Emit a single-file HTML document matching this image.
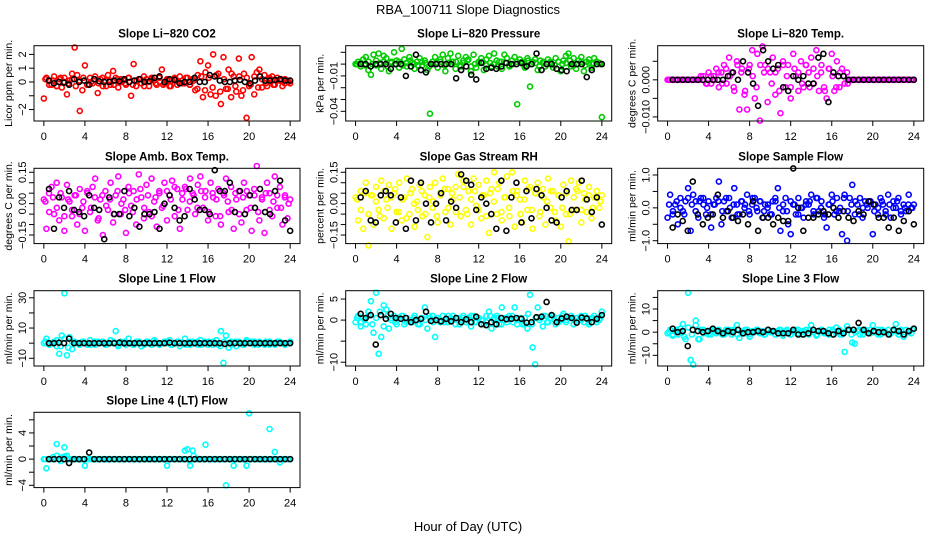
<!DOCTYPE html>
<html><head><meta charset="utf-8"><style>
body{margin:0;background:#fff}
svg{display:block;font-family:"Liberation Sans",Arial,sans-serif}
</style></head><body>
<svg id="chart" width="936" height="540" viewBox="0 0 936 540">
<rect width="936" height="540" fill="#fff"/>
<text x="468" y="14" text-anchor="middle" font-size="13">RBA_100711  Slope Diagnostics</text>
<text x="468" y="531" text-anchor="middle" font-size="13">Hour of Day (UTC)</text>
</svg>
<script>
const co2Color=[-1.2,0.3,0.1,-0.2,0.4,-0.3,0.2,-0.4,0.3,-0.9,0.1,0.6,2.5,0.5,-2.1,-0.6,1.2,-0.2,0.3,-0.1,0.4,-0.8,0.2,-0.3,0.1,0.5,-0.2,0.8,0.3,-0.4,0.2,0.1,-0.2,0.3,-1.0,1.3,-0.3,0.2,-0.1,0.4,0.2,-0.3,0.3,0.1,-0.2,0.4,0.9,-0.1,0.2,-0.3,0.1,0.3,-0.2,0.4,0.1,-0.1,0.3,-0.2,0.2,-0.6,0.5,1.5,-1.1,0.7,1.2,-0.9,2.0,-1.0,0.6,-1.6,1.8,-0.5,0.9,-1.1,0.4,-0.7,1.7,-1.0,0.6,-2.6,-0.3,1.8,-0.9,0.7,0.9,-0.4,0.5,-0.3,0.2,0.4,-0.2,0.3,0.1,-0.3,0.2,0.1,-0.1];
const co2Core=[0.2,-0.2,0.1,-0.3,0.3,0,-0.1,0.2,-0.3,0.1,0.3,-0.2,0,0.2,-0.1,0.3,-0.3,0.1,-0.2,0.2,0,-0.1,0.3,-0.2,0.1,0.2,-0.3,0,0.2,-0.1,0.3,-0.2,0.1,-0.3,0.2,0,-0.1,0.3,-0.2,0.1,-0.5,0.4,-0.6,0.3,-0.4,0.5,-0.7,0.2,-0.5,0.6,-0.3,0.4,-0.6,0.3,-0.2,0.4,-0.4,0.2,-0.1,0.3,-0.2,0.1,0.2,-0.1,0];
const co2Black=[0.1,-0.1,0,-0.05,-0.2,0.2,0,0.1,-0.2,0.2,0.05,0,0,0.1,0.05,0.2,0,0.1,0.2,0,0.05,0.3,0.4,0,0.2,0.15,-0.1,0,0,0.3,0,0,0.5,0.4,0.1,0,0,0.1,0.15,0,-0.1,0.1,0.4,0.1,0.1,0.15,0.2,0.1,0.1];
const presColor=[0.000,0.002,-0.002,0.004,0.006,-0.005,-0.009,0.008,0.003,0.009,-0.004,0.007,0.005,-0.006,0.002,0.010,0.003,-0.003,0.013,0.004,-0.002,0.006,0.001,-0.004,0.002,0.005,-0.001,0.003,-0.005,-0.042,0.002,0.006,-0.003,0.004,0.008,-0.006,0.005,0.009,0.002,-0.004,0.007,-0.002,0.003,0.006,0.004,-0.006,0.008,-0.003,0.002,0.005,-0.005,0.004,0.007,-0.002,0.009,0.003,0.002,-0.004,0.008,0.005,-0.002,0.003,0.006,-0.034,0.004,0.002,-0.003,0.005,-0.019,0.002,0.004,-0.005,0.003,0.001,-0.002,0.004,0.002,-0.003,0.005,0.002,-0.006,0.003,0.007,0.009,-0.002,0.005,-0.004,0.003,0.006,-0.006,0.002,0.004,-0.003,0.005,0.002,0.001,-0.045];
const presCore=[0,0.001,-0.001,0.002,0,-0.001,0.001,0.002,-0.002,0.001,0,0.002,-0.001,0.001,0.003,0,-0.001,0.002,0.001,-0.002,0,0.001,0.002,-0.001,0.001,0,0.002,-0.001,0.001,0.003,-0.002,0,0.001,0.002,-0.001,0.001,0,-0.002,0.002,0.001,-0.001,0,0.002,0.001,-0.001,0.003,0,0.001,-0.002,0.002,0,0.001,-0.001,0.002,0,0.001,0.003,-0.001,0,0.002,-0.001,0.001,0,0.002,0];
const presBlack=[0,0,-0.002,0,0,0,-0.004,0,0,-0.01,-0.002,0.008,-0.005,-0.007,0,0,0,0,0,-0.012,-0.005,-0.002,-0.009,-0.013,0.001,-0.004,-0.003,-0.004,-0.002,0.001,0,0,0.001,-0.002,0,0.009,-0.005,0,0,-0.004,-0.005,-0.006,0,0,0,-0.011,-0.005,0,0];
const tempColor=[0,0,0,0,0,0,0,0,0,0,0,0,0,0.001,0,-0.001,0.002,-0.001,0.001,0.003,-0.002,0.002,0.004,-0.001,0.006,0.002,-0.003,0.005,-0.008,0.003,-0.004,-0.008,0.004,0.008,-0.005,0.007,-0.011,0.009,0.004,-0.006,0.002,0.006,-0.004,0.003,-0.009,0.005,-0.002,0.004,-0.005,0.007,0.001,-0.003,0.005,-0.002,0.004,0.002,0.006,-0.001,0.008,-0.003,0.004,-0.002,-0.005,0.003,0.007,-0.003,0.005,-0.002,0.003,-0.001,0.002,0,0,0,0,0,0,0,0,0,0,0,0,0,0,0,0,0,0,0,0,0,0,0,0,0,0];
const tempCore=[0,0,0,0,0,0,0,0,0,0.001,-0.001,0.001,0,0.002,-0.001,0.003,0.001,-0.002,0.004,0.002,-0.003,0.003,0.001,-0.002,0.004,0.002,0.003,-0.001,0.002,-0.003,0.004,0.001,-0.002,0.003,0.002,-0.001,0.004,-0.002,0.003,0.001,0.002,-0.003,0.003,0.001,-0.002,0.002,0.001,-0.001,0,0,0,0,0,0,0,0,0,0,0,0,0,0,0,0,0];
const tempBlack=[0,0,0,0,0,0,0,0,0,0,0,0.001,0.002,0,0.005,0.002,-0.001,-0.007,0.008,0.005,0.003,0.004,-0.002,-0.003,0.001,0,0.001,-0.001,-0.001,0.006,0.007,-0.006,0.002,0.001,0.001,0,0,0,0,0,0,0,0,0,0,0,0,0,0];
const ambColor=[0.02,-0.12,0.05,0.08,-0.05,0.1,-0.08,0.03,-0.13,0.09,0.01,-0.06,0.04,-0.1,0.07,-0.02,-0.13,0.05,-0.04,0.08,0.12,-0.08,0.02,-0.15,0.06,-0.03,0.1,-0.09,0.04,0.13,-0.05,0.02,-0.14,0.08,-0.01,0.06,-0.1,0.14,0.03,-0.07,0.09,-0.04,0.12,0.01,-0.11,0.06,-0.02,0.1,-0.08,0.04,0.11,-0.06,0.07,-0.12,0.02,0.08,-0.03,0.12,0.05,-0.05,0.09,0.13,-0.02,0.06,-0.08,0.1,0.03,-0.06,0.07,-0.1,0.05,0.12,-0.04,0.08,-0.12,0.02,0.06,-0.09,0.1,-0.03,0.04,-0.13,0.07,0.18,-0.08,0.03,-0.14,0.1,0.05,-0.06,0.13,-0.02,0.08,-0.1,0.04,-0.07,0.02];
const ambCore=[0.01,-0.04,0.03,-0.02,0.05,-0.06,0.02,-0.03,0.04,-0.05,0.01,0.06,-0.02,0.03,-0.07,0.04,-0.01,0.02,-0.05,0.06,0,-0.03,0.05,-0.04,0.02,0.07,-0.02,0.04,-0.06,0.03,0.05,-0.01,0.06,0.02,0.08,-0.03,0.05,0.07,0.01,0.04,-0.02,0.06,0.03,-0.04,0.05,0.02,-0.06,0.04,0.01,-0.03,0.05,-0.05,0.03,0.06,-0.02,0.04,-0.04,0.02,0.05,-0.03,0.01,0.04,-0.02,0.03,0];
const ambBlack=[0.07,-0.12,0.03,-0.02,0.06,-0.03,-0.04,-0.06,0.04,-0.02,-0.03,-0.17,0.03,-0.05,-0.05,0.06,-0.06,-0.02,-0.11,-0.05,-0.05,-0.04,-0.12,0.0,0.04,-0.02,-0.08,-0.06,0.07,0.02,-0.03,-0.03,-0.05,0.16,0.06,0.06,0.1,-0.04,0.06,-0.05,0.04,-0.02,0.07,-0.04,-0.05,0.06,0.11,-0.08,-0.13];
const rhColor=[0.03,-0.08,0.06,-0.12,0.1,-0.2,0.04,-0.1,0.08,-0.03,0.11,-0.07,0.02,0.09,-0.12,0.05,-0.04,0.1,-0.08,0.03,0.12,-0.05,0.07,-0.11,0.01,0.09,-0.06,0.04,-0.16,0.08,-0.02,0.1,-0.09,0.05,0.12,-0.04,0.07,-0.1,0.02,0.08,0.14,-0.06,0.11,-0.03,0.06,-0.1,0.12,-0.01,0.09,-0.07,0.04,0.11,-0.14,0.07,0.15,-0.05,0.1,-0.08,0.03,0.13,-0.06,0.15,-0.11,0.06,0.02,-0.09,0.11,-0.03,0.08,-0.12,0.05,0.1,-0.04,0.07,-0.1,0.12,-0.02,0.06,-0.08,0.04,-0.11,0.09,-0.05,-0.18,0.11,-0.03,0.07,0.1,-0.09,0.05,-0.04,0.08,-0.07,0.03,0.06,-0.02,0.04];
const rhCore=[0.02,-0.03,0.05,-0.05,0.04,0.01,-0.06,0.06,-0.02,0.03,0.07,-0.04,0.02,-0.07,0.05,0,-0.03,0.06,-0.05,0.03,0.01,-0.06,0.04,0.07,-0.02,0.05,-0.04,0.03,0.08,-0.05,0.02,0.06,-0.03,0.04,-0.06,0.05,0.01,0.07,-0.04,0.03,-0.02,0.06,0.04,-0.05,0.02,0.07,-0.03,0.05,-0.06,0.03,0.01,0.06,-0.04,0.04,-0.02,0.05,-0.05,0.03,0.06,-0.03,0.02,0.04,-0.02,0.03,0.01];
const rhBlack=[0.03,0.06,-0.08,-0.09,0.04,0.06,0.04,-0.09,0.03,-0.12,0.11,-0.08,0.1,0.0,-0.09,0.0,0.05,-0.08,0.01,-0.02,0.14,0.11,0.09,-0.03,0.03,0.0,-0.05,-0.12,0.11,-0.13,0.03,0.1,-0.09,0.06,-0.07,0.07,0.04,-0.02,-0.08,-0.09,0.03,0.06,-0.03,-0.03,0.11,0.02,-0.04,0.03,-0.1];
const flowColor=[-0.3,0.4,-0.2,0.1,-0.5,0.3,-0.1,0.2,0.6,-0.7,0.4,0.2,-0.3,0.3,0.1,-0.2,0.2,-0.6,0.1,0.3,0.8,-0.5,0.2,-0.1,0.3,-0.3,0.6,0.1,-0.2,0.2,0.0,0.4,-0.2,0.1,0.3,-0.1,0.2,-0.3,0.1,0.0,-0.2,0.2,0.3,0.6,-0.7,-0.1,0.3,-0.5,-0.8,0.1,-0.2,0.3,0.0,-0.3,0.2,0.1,0.4,-0.2,0.3,-0.1,0.2,-0.3,-0.6,0.1,0.4,-0.2,0.3,-0.1,-0.8,0.4,-1.0,0.3,0.7,-0.2,0.1,0.3,-0.3,0.2,0.0,0.2,-0.8,0.1,-0.2,0.3,0.1,-0.1,0.4,-0.3,0.2,0.0,0.3,-0.2,0.1,-0.1,0.4,0.0,0.1];
const flowCore=[0.1,-0.1,0.2,0,-0.2,0.3,0.1,-0.1,0.2,0.3,0,-0.2,0.1,0.2,-0.1,0.3,0,0.1,-0.2,0.2,0.1,-0.1,0.3,0,0.2,-0.1,0.1,-0.2,0.2,0,0.1,-0.1,0.2,0.1,-0.2,0,0.1,0.2,-0.1,0.3,0,-0.2,0.1,0.2,-0.1,0,0.3,-0.1,0.1,0.2,-0.2,0,0.1,0.2,-0.1,0,0.2,-0.2,0.1,0,0.2,-0.1,0,0.1,0];
const flowBlack=[-0.6,-0.2,-0.4,-0.7,0.8,-0.2,-0.5,-0.3,-0.2,0.4,-0.3,-0.1,-0.3,-0.4,-0.2,-0.5,0.2,-0.7,-0.3,-0.3,-0.5,-0.3,-0.4,-0.4,1.2,0.0,-0.7,-0.3,-0.3,-0.2,-0.1,-0.2,0.0,-0.3,-0.1,-0.3,-0.4,-0.1,-0.2,0.2,0.1,-0.3,-0.3,-0.6,-0.3,-0.7,-0.4,-0.1,-0.5];
const line1Color=[0,3,-1,0,1,-2,-7,5,33,-8,4,-4,1,0,-1,1,0,-1,2,0,-1,1,0,1,-1,0,2,0,8,-2,1,0,-1,3,0,-1,0,1,-2,0,1,0,-1,2,0,-1,0,1,0,2,-1,0,1,-2,0,3,0,-1,1,0,-1,2,0,1,-1,0,1,0,-1,8,-13,5,-3,1,0,-2,1,0,-1,2,0,1,-1,0,1,0,-1,0,1,0,-1,0,1,0,-1,0,1];
const line1Core=[1,-1,0,2,-2,3,-3,1,0,-1,1,0,-1,1,0,1,-1,0,1,-1,0,1,0,-1,1,0,-1,1,0,1,-1,0,1,-1,0,1,0,-1,1,0,1,-1,0,1,-1,2,-2,1,0,-1,1,0,-1,1,0,1,-1,0,1,-1,0,1,0,-1,0];
const line1Black=[0,0,0.3,0,3,0,0,0,0,0,0,0,0,0,0.3,0,0,0,0,0,0,0,0,0,0.3,0,0,0,0,0,0,0,0,0,0,-0.5,0,0,0,0,0,0,0,0,0,0,0,0,0];
const line2Color=[-0.5,1,-1.5,0.5,-1,2,4.5,-3,6.5,-8,-4,3.5,2.5,-2,0.5,1,-1,0.5,1,-1,0.5,0,-0.5,1,0,-1,0.5,3,-2,0.5,1,-4,0.5,-0.5,1,0,-0.5,0.5,1,-1,0.5,0,1,-0.5,0.5,-1.5,1,-0.5,0.5,0,-1,1,2,-2,0.5,1,-1,3,0,-0.5,0.5,1,3,-1,0.5,-1,0.5,-2,6,-6.5,-10.5,3,0.5,-1.5,1,-0.5,0.5,1,-1,0.5,0,1.5,-0.5,0.5,1,-1,0.5,0,1,-0.5,0.5,-1,0.5,1,-0.5,0,2];
const line2Core=[0.5,-0.5,0,1,-1,0.5,2,-1.5,1,0,-0.5,0.5,1,-0.5,0,0.5,-1,0.5,0,1,-0.5,0.5,0,-0.5,1,0,0.5,-1,0.5,0,1,-0.5,0.5,0,-0.5,1,0,0.5,-1,0.5,1,-0.5,0,0.5,-1,1.5,-1,0.5,0,1,-0.5,0.5,0,-0.5,1,0,0.5,-1,0.5,0,1,-0.5,0.5,0,0.5];
const line2Black=[1.5,0.5,1.2,-5.8,1.2,0.3,1.5,0.5,0.3,0.5,-0.5,0,0.3,2,-0.2,0,-0.3,0.3,-0.3,0.5,-0.5,0.2,-0.5,0.8,-1,-1.2,-0.5,-1,0.5,0.2,0.3,0.5,0.3,-0.6,-0.5,0.7,0.8,4.3,1.2,-0.5,0.4,0.8,0.5,-0.6,0.6,0.4,-0.5,0.3,1.2];
const line3Color=[-0.5,1,-1.5,0.5,-1,1.5,3.5,-3,17,-12,-14,5,-3,1,-0.5,0.5,-1,1,0,-0.5,1,0,-1,0.5,1,-1,0.5,3,-2.5,0.5,-0.5,1,-2,0.5,0,1,-0.5,0.5,-1,1,0,0.5,-1,0.5,1,-1.5,0.5,0,-1,0.5,1,-0.5,0,0.5,1,-1,3,0,-1.5,0.5,1,-0.5,0,1,-1,0.5,0,1,-1,-8.5,2.5,1,-4.5,-5,0.5,-1,0.5,1,0,-0.5,3,0,1,-1,0.5,0,1,-0.5,0.5,3.5,-1,0.5,-2,1,0,-0.5,1.5];
const line3Core=[0,-1,1,0,-2,2,-1,3,-3,1,0,-1,1,0,-1,1,0,1,-1,0,1,-1,0,1,0,-1,1,0,-1,1,0,1,-1,0,1,-1,0,1,0,-1,1,0,-1,1,2,-1,0,1,-1,0,1,-1,0,1,0,-1,1,0,-1,1,0,1,-1,0,1];
const line3Black=[1.5,0,0.5,-6,1,0.5,0,0.5,1.5,0.5,-0.5,0.5,0,1,-0.5,0,0,0.5,0,1,0.5,-0.5,-0.5,-0.5,1,-1,-1,-0.5,1,0.5,0.5,-0.5,-1,0.5,-0.5,1,1,4,1,-0.5,0.5,0,0,-1,1,0.5,-1,0.5,1.5];
const line4Color=[0,-1.4,0,0,0,2.3,0,0.3,1.8,0.5,0,0,0,0,0,0,-1,0,0,0,0,0,0,0,0,0,0,0,0,0,0,0,0,0,0,0,0,0,0,0,0,0,0,0,0,0,0,0,-1,0,0,0,0,0,0,1.3,1.5,-1,1.3,0,0,0,0,2.2,0,0,0,0,0,0,0,-4,0,0,-1,0,0,0,0,-1,7,0,0,0,0,0,0,0,4.6,0,1.1,0,-0.5,0,0,0,0];
const line4Core=[0,0,0.3,0.5,-0.3,0.4,0,0,0,0,0,0,0,0,0,0,0,0,0,0,0,0,0,0,0,0,0,0,0,0,0,0,0,0,0,0,0,0,-0.3,0.5,0,0,0,0,0,0,0,0,0,0,0,0,0,0,0,0,0,0,0,0,0,0,0,0,0];
const line4Black=[0,0,0,0,-0.6,0,0,0,1.0,0,0,0,0,0,0,0,0,0,0,0,0,0,0,0,0,0,0,0,0,0,0,0,0,0,0,0,0,0,0,0,0,0,0,0,0,0,0,0,0];
const xTicks=[0,4,8,12,16,20,24];

const svg=document.getElementById('chart');
const NS='http://www.w3.org/2000/svg';
function mk(tag,attrs,parent){const e=document.createElementNS(NS,tag);for(const k in attrs)e.setAttribute(k,attrs[k]);(parent||svg).appendChild(e);return e;}
const colL=[34,345.7,657.7],rowT=[45.7,168.3,290.7,412.3],W=266,H=75.3;

const panels=[
 {name:'co2',title:'Slope Li\u2212820 CO2',ylab:'Licor ppm per min.',c:0,r:0,dom:[-2.83,2.63],ticks:[-2,-1,0,1,2],labels:[[2,'2'],[1,'1'],[0,'0'],[-2,'\u22122']],color:'#ff0000',col:co2Color,core:co2Core,blk:co2Black},
 {name:'pressure',title:'Slope Li\u2212820 Pressure',ylab:'kPa per min.',c:1,r:0,dom:[-0.0482,0.0156],ticks:[0.01,0,-0.01,-0.02,-0.03,-0.04],labels:[[-0.01,'\u22120.01'],[-0.04,'\u22120.04']],color:'#00cc00',col:presColor,core:presCore,blk:presBlack},
 {name:'li820-temp',title:'Slope Li\u2212820 Temp.',ylab:'degrees C per min.',c:2,r:0,dom:[-0.0111,0.0092],ticks:[0.005,0,-0.005,-0.01],labels:[[0,'0.000'],[-0.01,'\u22120.010']],color:'#ff00ff',col:tempColor,core:tempCore,blk:tempBlack},
 {name:'amb-box-temp',title:'Slope Amb. Box Temp.',ylab:'degrees C per min.',c:0,r:1,dom:[-0.191,0.169],ticks:[-0.15,-0.1,-0.05,0,0.05,0.1,0.15],labels:[[0.15,'0.15'],[0,'0.00'],[-0.15,'\u22120.15']],color:'#ff00ff',col:ambColor,core:ambCore,blk:ambBlack},
 {name:'gas-stream-rh',title:'Slope Gas Stream RH',ylab:'percent per min.',c:1,r:1,dom:[-0.191,0.169],ticks:[-0.15,-0.1,-0.05,0,0.05,0.1,0.15],labels:[[0.15,'0.15'],[0,'0.00'],[-0.15,'\u22120.15']],color:'#ffff00',col:rhColor,core:rhCore,blk:rhBlack},
 {name:'sample-flow',title:'Slope Sample Flow',ylab:'ml/min per min.',c:2,r:1,dom:[-1.088,1.204],ticks:[-1,-0.5,0,0.5,1],labels:[[1,'1.0'],[0,'0.0'],[-1,'\u22121.0']],color:'#0000ff',col:flowColor,core:flowCore,blk:flowBlack},
 {name:'line1-flow',title:'Slope Line 1 Flow',ylab:'ml/min per min.',c:0,r:2,dom:[-15.1,34.7],ticks:[-10,0,10,20,30],labels:[[30,'30'],[10,'10'],[-10,'\u221210']],color:'#00ffff',col:line1Color,core:line1Core,blk:line1Black},
 {name:'line2-flow',title:'Slope Line 2 Flow',ylab:'ml/min per min.',c:1,r:2,dom:[-10.9,6.98],ticks:[-10,-5,0,5],labels:[[5,'5'],[0,'0'],[-10,'\u221210']],color:'#00ffff',col:line2Color,core:line2Core,blk:line2Black},
 {name:'line3-flow',title:'Slope Line 3 Flow',ylab:'ml/min per min.',c:2,r:2,dom:[-14.6,17.9],ticks:[-10,-5,0,5,10,15],labels:[[10,'10'],[0,'0'],[-10,'\u221210']],color:'#00ffff',col:line3Color,core:line3Core,blk:line3Black},
 {name:'line4-lt-flow',title:'Slope Line 4 (LT) Flow',ylab:'ml/min per min.',c:0,r:3,dom:[-4.35,7.15],ticks:[-4,-2,0,2,4,6],labels:[[4,'4'],[0,'0'],[-4,'\u22124']],color:'#00ffff',col:line4Color,core:line4Core,blk:line4Black}
];

panels.forEach(p=>{
 const L=colL[p.c],T=rowT[p.r],B=T+H;
 const g=mk('g',{});
 
 
 const span=W/1.08;
 const xs=h=>L+span*0.04+span*h/24;
 const ys=v=>B-(v-p.dom[0])/(p.dom[1]-p.dom[0])*H;
 const t=mk('text',{x:L+W/2,y:T-8,'text-anchor':'middle','font-size':11.5,'font-weight':'bold'},g);
 t.textContent=p.title;
 
 
 const yl=mk('text',{x:0,y:0,'text-anchor':'middle','font-size':10.5,transform:`translate(${L-22},${T+H/2}) rotate(-90)`},g);
 yl.textContent=p.ylab;
 
 
 xTicks.forEach(h=>{
  mk('line',{x1:xs(h),x2:xs(h),y1:B,y2:B+5,stroke:'#000','stroke-width':1},g);
  const tl=mk('text',{x:xs(h),y:B+19,'text-anchor':'middle','font-size':11},g);
  tl.textContent=h;
  
  
 });
 p.ticks.forEach(v=>{mk('line',{x1:L-5,x2:L,y1:ys(v),y2:ys(v),stroke:'#000','stroke-width':1},g);});
 p.labels.forEach(([v,s])=>{
  const tl=mk('text',{x:0,y:0,'text-anchor':'middle','font-size':11,transform:`translate(${L-8},${ys(v)}) rotate(-90)`},g);
  tl.textContent=s;
  
  
 });
 const cg=mk('g',{fill:'none',stroke:p.color,'stroke-width':1.6},g);
 
 
 const n=p.col.length;
 p.col.forEach((v,i)=>{
  const c=mk('circle',{cx:xs(i*24/(n-1)),cy:ys(v),r:2.5},cg);
  
  
 });
 const k=p.core.length;
 p.core.forEach((v,i)=>{
  const c=mk('circle',{cx:xs(0.15+i*23.7/(k-1)),cy:ys(v),r:2.5},cg);
  
  
 });
 const bg=mk('g',{fill:'none',stroke:'#000','stroke-width':1.6},g);
 
 
 const m=p.blk.length;
 p.blk.forEach((v,i)=>{
  const c=mk('circle',{cx:xs(0.5+i*23.5/(m-1)),cy:ys(v),r:2.5},bg);
  
  
 });
 const box=mk('rect',{x:L,y:T,width:W,height:H,fill:'none',stroke:'#000','stroke-width':1},g);
 
 
});
</script>
</body></html>
